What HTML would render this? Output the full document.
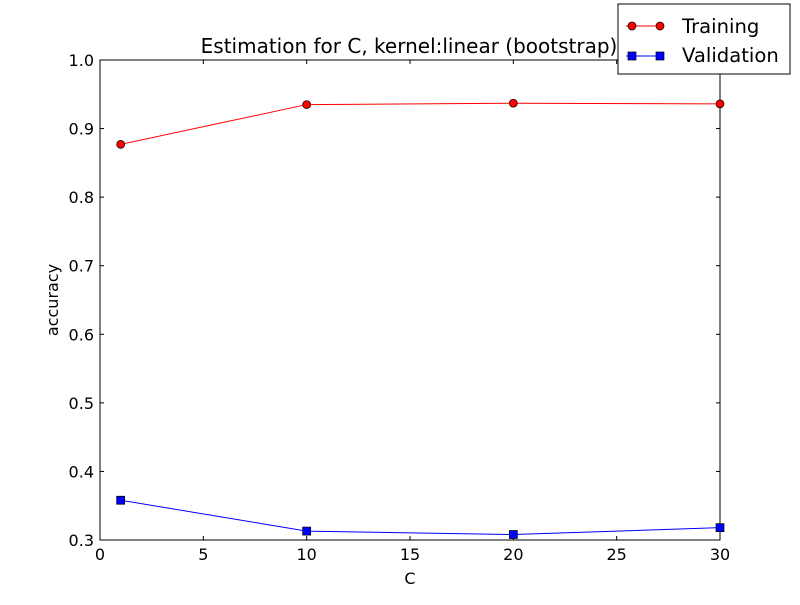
<!DOCTYPE html>
<html><head><meta charset="utf-8"><style>
body{margin:0;background:#fff;}
svg text{font-family:"DejaVu Sans","Liberation Sans",sans-serif;}
</style></head><body>
<svg id="chart" width="800" height="600" xmlns="http://www.w3.org/2000/svg">
<rect width="800" height="600" fill="#fff"/>
<g id="plot"></g>
</svg>
<script>
const categories=[1,10,20,30];
const trainingValues=[0.877,0.935,0.937,0.936];
const validationValues=[0.358,0.313,0.308,0.318];
const xTicks=[0,5,10,15,20,25,30];
const yTicks=[0.3,0.4,0.5,0.6,0.7,0.8,0.9,1.0];
const yTickLabels=["0.3","0.4","0.5","0.6","0.7","0.8","0.9","1.0"];

const L=100,R=720,T=60,B=540;
const x=v=>L+(v-0)/(30-0)*(R-L);
const y=v=>B-(v-0.3)/(1.0-0.3)*(B-T);
const NS="http://www.w3.org/2000/svg";
const g=document.getElementById('plot');
function mk(tag,attrs,parent){const e=document.createElementNS(NS,tag);for(const k in attrs)e.setAttribute(k,attrs[k]);(parent||g).appendChild(e);return e;}

const ax=mk('rect',{x:L,y:T,width:R-L,height:B-T,fill:'none',stroke:'#000','stroke-width':1});



xTicks.forEach(t=>{
  const px=x(t);
  mk('line',{x1:px,y1:B,x2:px,y2:B-4,stroke:'#000'});
  mk('line',{x1:px,y1:T,x2:px,y2:T+4,stroke:'#000'});
  const tx=mk('text',{x:px,y:B+20,'text-anchor':'middle','font-size':16});
  tx.textContent=t;
  
  
});
yTicks.forEach((t,i)=>{
  const py=y(t);
  mk('line',{x1:L,y1:py,x2:L+4,y2:py,stroke:'#000'});
  mk('line',{x1:R,y1:py,x2:R-4,y2:py,stroke:'#000'});
  const tx=mk('text',{x:L-6,y:py+6,'text-anchor':'end','font-size':16});
  tx.textContent=yTickLabels[i];
  
  
});

function series(vals,color,shape,name){
  const p=mk('polyline',{points:categories.map((c,i)=>x(c)+','+y(vals[i])).join(' '),fill:'none',stroke:color,'stroke-width':1});
  
  
  categories.forEach((c,i)=>{
    let m;
    if(shape==='circle')m=mk('circle',{cx:x(c),cy:y(vals[i]),r:4,fill:color,stroke:'#000','stroke-width':0.7});
    else m=mk('rect',{x:x(c)-4,y:y(vals[i])-4,width:8,height:8,fill:color,stroke:'#000','stroke-width':0.7});
    
    
  });
}
series(trainingValues,'#ff0000','circle','training');
series(validationValues,'#0000ff','square','validation');

const title=mk('text',{x:409,y:53,'text-anchor':'middle','font-size':20});
title.textContent='Estimation for C, kernel:linear (bootstrap)';


const xl=mk('text',{x:410,y:584,'text-anchor':'middle','font-size':16});
xl.textContent='C';


const yl=mk('text',{x:58,y:300,'text-anchor':'middle','font-size':16,transform:'rotate(-90 58 300)'});
yl.textContent='accuracy';



const lg=mk('g',{});


mk('rect',{x:618,y:4,width:172,height:70,fill:'#fff',stroke:'#000'},lg);
mk('line',{x1:626,y1:26,x2:664,y2:26,stroke:'#ff0000'},lg);
mk('circle',{cx:632,cy:26,r:4,fill:'#ff0000',stroke:'#000','stroke-width':0.7},lg);
mk('circle',{cx:660,cy:26,r:4,fill:'#ff0000',stroke:'#000','stroke-width':0.7},lg);
const t1=mk('text',{x:682,y:33,'font-size':19.6},lg);t1.textContent='Training';


mk('line',{x1:626,y1:56,x2:664,y2:56,stroke:'#0000ff'},lg);
mk('rect',{x:628,y:52,width:8,height:8,fill:'#0000ff',stroke:'#000','stroke-width':0.7},lg);
mk('rect',{x:656,y:52,width:8,height:8,fill:'#0000ff',stroke:'#000','stroke-width':0.7},lg);
const t2=mk('text',{x:682,y:62,'font-size':19.6},lg);t2.textContent='Validation';


</script>
</body></html>
